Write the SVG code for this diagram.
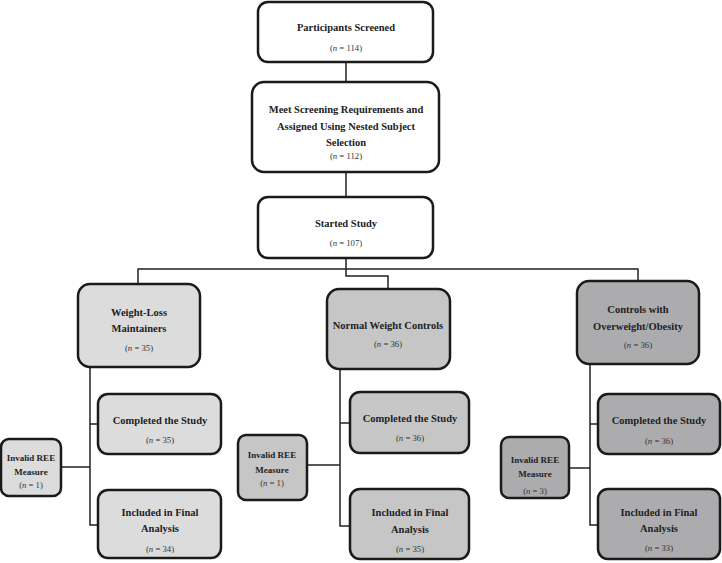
<svg xmlns="http://www.w3.org/2000/svg" width="722" height="563" viewBox="0 0 722 563">
<style>
.b{stroke:#1a1a1a;stroke-width:2.5}
.w{fill:#ffffff}
.g1{fill:#dcdcdc}
.g2{fill:#c6c6c6}
.g3{fill:#acacae}
.t{font-family:"Liberation Serif",serif;font-weight:bold;font-size:10.5px;fill:#222;text-anchor:middle}
.s{font-family:"Liberation Serif",serif;font-weight:bold;font-size:9px;fill:#222;text-anchor:middle}
.n{font-family:"Liberation Serif",serif;font-size:8.7px;fill:#333;text-anchor:middle}
.c{fill:none;stroke:#222;stroke-width:1.5}
</style>
<rect width="722" height="563" fill="#ffffff"/>
<g id="connectors">
<path class="c" d="M346 62V82M346 172V197M346 258V269M138 284V269H638V281M346 269V276H388V289"/>
<path class="c" d="M90 367V525H98M90 424H98M61 467H90"/>
<path class="c" d="M340 369V526H350M340 423H350M307 465H340"/>
<path class="c" d="M590 364V525H598M590 424H598M569 468H590"/>
</g>
<g id="screened"><rect class="b w" x="258" y="2" width="175" height="60" rx="10"/>
<text class="t" x="346" y="31">Participants Screened</text><text class="n" x="346" y="51">(<tspan font-style="italic">n</tspan> = 114)</text></g>
<g id="assigned"><rect class="b w" x="252" y="82" width="187" height="90" rx="12"/>
<text class="t" x="346" y="113">Meet Screening Requirements and</text>
<text class="t" x="346" y="130">Assigned Using Nested Subject</text>
<text class="t" x="346" y="146">Selection</text>
<text class="n" x="346" y="159">(<tspan font-style="italic">n</tspan> = 112)</text></g>
<g id="started"><rect class="b w" x="258" y="197" width="175" height="61" rx="10"/>
<text class="t" x="346" y="227">Started Study</text><text class="n" x="346" y="246">(<tspan font-style="italic">n</tspan> = 107)</text></g>

<g id="wlm"><rect class="b g1" x="78" y="284" width="122" height="83" rx="12"/>
<text class="t" x="139" y="316">Weight-Loss</text><text class="t" x="139" y="332">Maintainers</text>
<text class="n" x="139" y="351">(<tspan font-style="italic">n</tspan> = 35)</text></g>
<g id="wlm-completed"><rect class="b g1" x="98" y="394" width="123" height="60" rx="10"/>
<text class="t" x="160" y="424">Completed the Study</text><text class="n" x="160" y="443">(<tspan font-style="italic">n</tspan> = 35)</text></g>
<g id="wlm-invalid"><rect class="b g1" x="1" y="439" width="60" height="57" rx="8"/>
<text class="s" x="31" y="461">Invalid REE</text><text class="s" x="31" y="475">Measure</text>
<text class="n" x="31" y="488">(<tspan font-style="italic">n</tspan> = 1)</text></g>
<g id="wlm-included"><rect class="b g1" x="98" y="490" width="123" height="68" rx="10"/>
<text class="t" x="160" y="516">Included in Final</text><text class="t" x="160" y="532">Analysis</text>
<text class="n" x="160" y="552">(<tspan font-style="italic">n</tspan> = 34)</text></g>

<g id="nwc"><rect class="b g2" x="327" y="289" width="123" height="80" rx="12"/>
<text class="t" x="388" y="329">Normal Weight Controls</text>
<text class="n" x="388" y="347">(<tspan font-style="italic">n</tspan> = 36)</text></g>
<g id="nwc-completed"><rect class="b g2" x="350" y="392" width="119" height="61" rx="10"/>
<text class="t" x="410" y="422">Completed the Study</text><text class="n" x="410" y="441">(<tspan font-style="italic">n</tspan> = 36)</text></g>
<g id="nwc-invalid"><rect class="b g2" x="238" y="435" width="69" height="65" rx="8"/>
<text class="s" x="272" y="458">Invalid REE</text><text class="s" x="272" y="473">Measure</text>
<text class="n" x="272" y="486">(<tspan font-style="italic">n</tspan> = 1)</text></g>
<g id="nwc-included"><rect class="b g2" x="350" y="489" width="119" height="70" rx="10"/>
<text class="t" x="410" y="516">Included in Final</text><text class="t" x="410" y="533">Analysis</text>
<text class="n" x="410" y="552">(<tspan font-style="italic">n</tspan> = 35)</text></g>

<g id="coo"><rect class="b g3" x="577" y="281" width="122" height="83" rx="12"/>
<text class="t" x="638" y="313">Controls with</text><text class="t" x="638" y="330">Overweight/Obesity</text>
<text class="n" x="638" y="348">(<tspan font-style="italic">n</tspan> = 36)</text></g>
<g id="coo-completed"><rect class="b g3" x="598" y="394" width="122" height="60" rx="10"/>
<text class="t" x="659" y="424">Completed the Study</text><text class="n" x="659" y="444">(<tspan font-style="italic">n</tspan> = 36)</text></g>
<g id="coo-invalid"><rect class="b g3" x="501" y="437" width="68" height="61" rx="8"/>
<text class="s" x="535" y="463">Invalid REE</text><text class="s" x="535" y="477">Measure</text>
<text class="n" x="535" y="494">(<tspan font-style="italic">n</tspan> = 3)</text></g>
<g id="coo-included"><rect class="b g3" x="598" y="489" width="122" height="70" rx="10"/>
<text class="t" x="659" y="516">Included in Final</text><text class="t" x="659" y="532">Analysis</text>
<text class="n" x="659" y="551">(<tspan font-style="italic">n</tspan> = 33)</text></g>
</svg>
